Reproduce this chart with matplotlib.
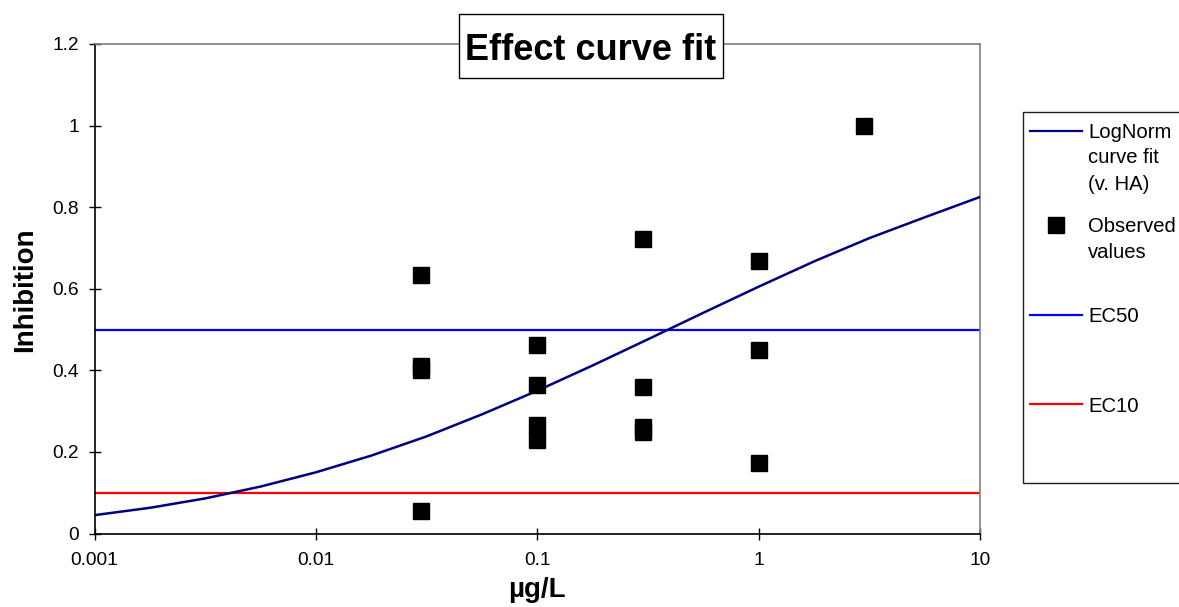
import matplotlib
matplotlib.use("Agg")
import matplotlib.pyplot as plt
from matplotlib.lines import Line2D
from matplotlib.patches import Rectangle

# fitted log-normal curve at quarter-decade steps
curve_conc = [0.001, 0.00178, 0.00316, 0.00562, 0.01, 0.0178, 0.0316, 0.0562,
              0.1, 0.178, 0.316, 0.562, 1.0, 1.78, 3.16, 5.62, 10.0]
curve_inhib = [0.045, 0.063, 0.086, 0.115, 0.150, 0.191, 0.238, 0.292,
               0.350, 0.412, 0.476, 0.541, 0.605, 0.667, 0.724, 0.775, 0.825]

# observed values
obs_conc = [0.03, 0.03, 0.03, 0.03, 0.1, 0.1, 0.1, 0.1,
            0.3, 0.3, 0.3, 0.3, 1.0, 1.0, 1.0, 3.0]
obs_inhib = [0.633, 0.41, 0.40, 0.055, 0.463, 0.365, 0.265, 0.23,
             0.721, 0.358, 0.26, 0.25, 0.667, 0.449, 0.172, 1.0]

ec_conc = [0.001, 10.0]
ec50 = [0.5, 0.5]
ec10 = [0.1, 0.1]

x_ticks = [0.001, 0.01, 0.1, 1, 10]
x_tick_labels = ["0.001", "0.01", "0.1", "1", "10"]
y_ticks = [0, 0.2, 0.4, 0.6, 0.8, 1.0, 1.2]
y_tick_labels = ["0", "0.2", "0.4", "0.6", "0.8", "1", "1.2"]

legend_labels = ["LogNorm\ncurve fit\n(v. HA)", "Observed\nvalues", "EC50", "EC10"]

CURVE_COLOR = "#000080"
EC50_COLOR = "#0000FF"
EC10_COLOR = "#FF0000"

W, H = 1179, 607


def fx(px):
    return px / W


def fy(py):
    return 1 - py / H


plt.rcParams["font.family"] = ["Liberation Sans", "DejaVu Sans"]

fig = plt.figure(figsize=(W / 100, H / 100), dpi=100)
ax = fig.add_axes([fx(94.5), fy(533.5), fx(980) - fx(94.5), fy(44) - fy(533.5)])

ax.plot(ec_conc, ec50, color=EC50_COLOR, linewidth=1.6, zorder=2)
ax.plot(ec_conc, ec10, color=EC10_COLOR, linewidth=1.6, zorder=2)
ax.plot(curve_conc, curve_inhib, color=CURVE_COLOR, linewidth=1.8, zorder=3)
ax.plot(obs_conc, obs_inhib, linestyle="none", marker="s", markersize=12,
        color="black", zorder=4)

ax.set_xscale("log")
ax.set_xlim(0.001, 10)
ax.set_ylim(0, 1.2)
ax.set_xticks(x_ticks)
ax.set_xticklabels(x_tick_labels)
ax.xaxis.set_minor_locator(matplotlib.ticker.NullLocator())
ax.set_yticks(y_ticks)
ax.set_yticklabels(y_tick_labels)
ax.tick_params(axis="both", direction="inout", length=8.5, width=1.0,
               labelsize=13.8, color="black")
ax.tick_params(axis="x", pad=9)
ax.tick_params(axis="y", pad=7)

for side in ("left", "bottom"):
    ax.spines[side].set_color("black")
    ax.spines[side].set_linewidth(1.2)
for side in ("top", "right"):
    ax.spines[side].set_color("#808080")
    ax.spines[side].set_linewidth(1.2)

fig.text(fx(25), fy(290), "Inhibition", rotation=90, fontsize=20,
         fontweight="bold", ha="center", va="center")
fig.text(fx(537), fy(590), "µg/L", fontsize=20, fontweight="bold",
         ha="center", va="center")

# title box sitting over the top spine
fig.add_artist(Rectangle((fx(459), fy(78)), fx(723) - fx(459), fy(14) - fy(78),
                         transform=fig.transFigure, facecolor="white",
                         edgecolor="black", linewidth=1.0, zorder=5))
fig.text(fx(591), fy(59.5), "Effect curve fit", fontsize=26, fontweight="bold",
         ha="center", va="baseline", zorder=6)

# legend drawn by hand to keep the spread-out layout
fig.add_artist(Rectangle((fx(1023), fy(483)), fx(1190) - fx(1023), fy(112) - fy(483),
                         transform=fig.transFigure, facecolor="white",
                         edgecolor="#202020", linewidth=1.0, zorder=5))
handle_y = [131, 225, 315, 404]
text_y = [137.5, 231.5, 321.5, 411.5]
for i, label in enumerate(legend_labels):
    if i == 1:
        fig.add_artist(Line2D([fx(1056)], [fy(handle_y[i])], marker="s",
                              markersize=12, color="black", linestyle="none",
                              transform=fig.transFigure, zorder=6))
    else:
        color = [CURVE_COLOR, None, EC50_COLOR, EC10_COLOR][i]
        fig.add_artist(Line2D([fx(1030), fx(1082)], [fy(handle_y[i])] * 2,
                              color=color, linewidth=1.6,
                              transform=fig.transFigure, zorder=6))
    for j, line in enumerate(label.split("\n")):
        fig.text(fx(1088), fy(text_y[i] + 26 * j), line, fontsize=14.6,
                 ha="left", va="baseline", zorder=6)

fig.savefig("out.png", dpi=100)
